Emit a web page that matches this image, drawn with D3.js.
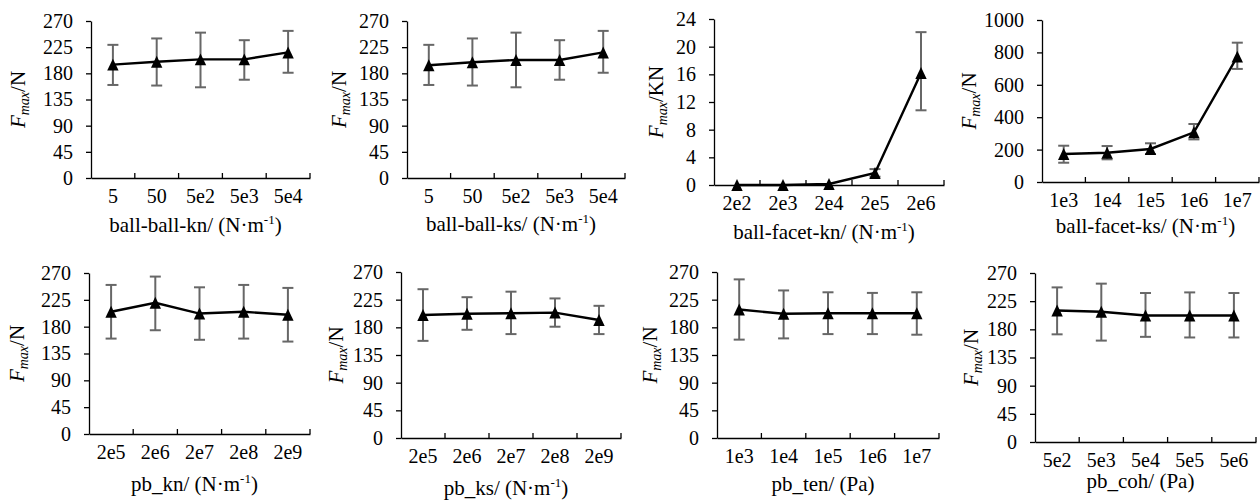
<!DOCTYPE html>
<html>
<head>
<meta charset="utf-8">
<script src="https://cdn.jsdelivr.net/npm/d3@7"></script>
<style>
  body { margin: 0; background: #fff; }
  svg { display: block; }
  svg text { font-family: "Liberation Serif", "Times New Roman", serif !important; }
</style>
</head>
<body>
<div id="chart"></div>
<script>
// tick labels of the y axes
var ticksN = [0, 45, 90, 135, 180, 225, 270];
var ticksKN = [0, 4, 8, 12, 16, 20, 24];
var ticks1000 = [0, 200, 400, 600, 800, 1000];

// ball-ball-kn
var catsBBkn = ["5", "50", "5e2", "5e3", "5e4"];
var meanBBkn = [195, 200, 204, 204, 216];
var hiBBkn = [229, 240, 250, 237, 253];
var loBBkn = [160, 159, 156, 169, 181];

// ball-ball-ks
var catsBBks = ["5", "50", "5e2", "5e3", "5e4"];
var meanBBks = [194, 199, 203, 203, 216];
var hiBBks = [229, 240, 250, 237, 253];
var loBBks = [160, 159, 156, 169, 181];

// ball-facet-kn (KN)
var catsBFkn = ["2e2", "2e3", "2e4", "2e5", "2e6"];
var meanBFkn = [0, 0, 0.15, 1.75, 16.2];
var hiBFkn = [0, 0, 0.15, 2.3, 22.1];
var loBFkn = [0, 0, 0.15, 1.2, 10.8];

// ball-facet-ks
var catsBFks = ["1e3", "1e4", "1e5", "1e6", "1e7"];
var meanBFks = [173, 181, 204, 307, 774];
var hiBFks = [224, 222, 239, 358, 860];
var loBFks = [119, 140, 173, 263, 698];

// pb_kn
var catsPbKn = ["2e5", "2e6", "2e7", "2e8", "2e9"];
var meanPbKn = [205, 220, 202, 205, 200];
var hiPbKn = [250, 264, 246, 250, 245];
var loPbKn = [160, 174, 158, 160, 155];

// pb_ks
var catsPbKs = ["2e5", "2e6", "2e7", "2e8", "2e9"];
var meanPbKs = [200, 202, 203, 204, 192];
var hiPbKs = [242, 229, 238, 227, 215];
var loPbKs = [158, 176, 169, 181, 169];

// pb_ten
var catsPbTen = ["1e3", "1e4", "1e5", "1e6", "1e7"];
var meanPbTen = [209, 202, 203, 203, 203];
var hiPbTen = [258, 240, 237, 236, 237];
var loPbTen = [160, 162, 169, 169, 168];

// pb_coh
var catsPbCoh = ["5e2", "5e3", "5e4", "5e5", "5e6"];
var meanPbCoh = [210, 208, 202, 202, 202];
var hiPbCoh = [247, 253, 238, 239, 238];
var loPbCoh = [172, 162, 168, 167, 167];

// x axis titles: [text, superscript, closing]
var titles = [
    ["ball-ball-kn/ (N·m", "-1", ")"],
    ["ball-ball-ks/ (N·m", "-1", ")"],
    ["ball-facet-kn/ (N·m", "-1", ")"],
    ["ball-facet-ks/ (N·m", "-1", ")"],
    ["pb_kn/ (N·m", "-1", ")"],
    ["pb_ks/ (N·m", "-1", ")"],
    ["pb_ten/ (Pa)", "", ""],
    ["pb_coh/ (Pa)", "", ""]
];
var units = ["N", "N", "KN", "N", "N", "N", "N", "N"];

var panels = [
    { cats: catsBBkn, mean: meanBBkn, hi: hiBBkn, lo: loBBkn, ticks: ticksN },
    { cats: catsBBks, mean: meanBBks, hi: hiBBks, lo: loBBks, ticks: ticksN },
    { cats: catsBFkn, mean: meanBFkn, hi: hiBFkn, lo: loBFkn, ticks: ticksKN },
    { cats: catsBFks, mean: meanBFks, hi: hiBFks, lo: loBFks, ticks: ticks1000 },
    { cats: catsPbKn, mean: meanPbKn, hi: hiPbKn, lo: loPbKn, ticks: ticksN },
    { cats: catsPbKs, mean: meanPbKs, hi: hiPbKs, lo: loPbKs, ticks: ticksN },
    { cats: catsPbTen, mean: meanPbTen, hi: hiPbTen, lo: loPbTen, ticks: ticksN },
    { cats: catsPbCoh, mean: meanPbCoh, hi: hiPbCoh, lo: loPbCoh, ticks: ticksN }
];

// plot boxes: left, right, top, bottom, y title distance from axis, x title baseline below axis
var boxes = [
    [91, 310, 21, 178, 73, 54],
    [407, 625, 21, 178, 68, 53],
    [714, 944, 19, 185, 58, 54],
    [1042, 1259, 20, 182, 73, 51],
    [89, 310, 273, 434, 72, 57],
    [401, 621, 272, 438, 65, 57],
    [717, 939, 272, 438, 67, 53],
    [1035, 1256, 273, 442, 64, 46]
];

// Excel-like triangle: a bit taller than an equilateral one, centred on its box
var excelTriangle = {
    draw: function (ctx, size) {
        var w = Math.sqrt(size), h = w * 1.05;
        ctx.moveTo(0, -h / 2);
        ctx.lineTo(w / 2, h / 2);
        ctx.lineTo(-w / 2, h / 2);
        ctx.closePath();
    }
};

var svg = d3.select("#chart").append("svg")
    .attr("width", 1260)
    .attr("height", 501);

panels.forEach(function (p, k) {
    var b = boxes[k];
    var g = svg.append("g");

    var xScale = d3.scaleBand()
        .domain(p.cats)
        .range([b[0], b[1]])
        .padding(0);

    var yScale = d3.scaleLinear()
        .domain([0, d3.max(p.ticks)])
        .range([b[3], b[2]]);

    var cx = function (c) { return xScale(c) + xScale.bandwidth() / 2; };

    // y axis
    var ya = g.append("g")
        .attr("transform", "translate(" + b[0] + ",0)")
        .call(d3.axisLeft(yScale).tickValues(p.ticks).tickFormat(d3.format("d"))
            .tickSize(5).tickSizeOuter(0).tickPadding(13));
    ya.selectAll("text").attr("font-size", 20).attr("fill", "#000");
    ya.selectAll("line").attr("stroke", "#000").attr("stroke-width", 1.3);
    ya.select(".domain").attr("stroke", "#000").attr("stroke-width", 1.3);

    // x axis
    var xa = g.append("g")
        .attr("transform", "translate(0," + b[3] + ")")
        .call(d3.axisBottom(xScale).tickSize(0).tickSizeOuter(0));
    xa.selectAll("text")
        .attr("font-size", 20).attr("fill", "#000")
        .attr("y", 25).attr("dy", null);
    xa.select(".domain").attr("stroke", "#000").attr("stroke-width", 1.3);

    // inside tick marks at category boundaries
    g.append("g").selectAll("line")
        .data(p.cats)
        .join("line")
        .attr("x1", function (c) { return xScale(c) + xScale.bandwidth(); })
        .attr("x2", function (c) { return xScale(c) + xScale.bandwidth(); })
        .attr("y1", b[3])
        .attr("y2", b[3] - 5)
        .attr("stroke", "#000")
        .attr("stroke-width", 1.3);

    var rows = p.cats.map(function (c, i) {
        return { c: c, m: p.mean[i], hi: p.hi[i], lo: p.lo[i] };
    });
    var withErr = rows.filter(function (d) { return d.hi !== d.lo; });

    // error bars
    var eb = g.append("g").attr("stroke", "#676767").attr("stroke-width", 2);
    eb.selectAll(".v").data(withErr).join("line")
        .attr("x1", function (d) { return cx(d.c); })
        .attr("x2", function (d) { return cx(d.c); })
        .attr("y1", function (d) { return yScale(d.hi); })
        .attr("y2", function (d) { return yScale(d.lo); });
    ["hi", "lo"].forEach(function (key) {
        eb.selectAll(".cap-" + key).data(withErr).join("line")
            .attr("x1", function (d) { return cx(d.c) - 5.5; })
            .attr("x2", function (d) { return cx(d.c) + 5.5; })
            .attr("y1", function (d) { return yScale(d[key]); })
            .attr("y2", function (d) { return yScale(d[key]); });
    });

    // mean line
    var line = d3.line()
        .x(function (d) { return cx(d.c); })
        .y(function (d) { return yScale(d.m); });
    g.append("path")
        .datum(rows)
        .attr("d", line)
        .attr("fill", "none")
        .attr("stroke", "#000")
        .attr("stroke-width", 2.4);

    // triangle markers
    g.selectAll(".mk").data(rows).join("path")
        .attr("d", d3.symbol().type(excelTriangle).size(130))
        .attr("transform", function (d) { return "translate(" + cx(d.c) + "," + yScale(d.m) + ")"; })
        .attr("fill", "#000");

    // y title
    var ly = (b[2] + b[3]) / 2;
    var lx = b[0] - b[4] + 7;
    var yt = g.append("text")
        .attr("transform", "translate(" + lx + "," + ly + ") rotate(-90)")
        .attr("text-anchor", "middle")
        .attr("font-size", 21)
        .attr("fill", "#000");
    yt.append("tspan").attr("font-style", "italic").text("F");
    yt.append("tspan").attr("font-style", "italic").attr("font-size", 14).attr("dy", 4).text("max");
    yt.append("tspan").attr("dy", -4).text("/" + units[k]);

    // x title
    var t = titles[k];
    var xt = g.append("text")
        .attr("x", (b[0] + b[1]) / 2 - 5)
        .attr("y", b[3] + b[5])
        .attr("text-anchor", "middle")
        .attr("font-size", 21)
        .attr("fill", "#000");
    xt.append("tspan").text(t[0]);
    if (t[1]) {
        xt.append("tspan").attr("font-size", 13).attr("dy", -8).text(t[1]);
        xt.append("tspan").attr("dy", 8).text(t[2]);
    }
});
</script>
</body>
</html>
